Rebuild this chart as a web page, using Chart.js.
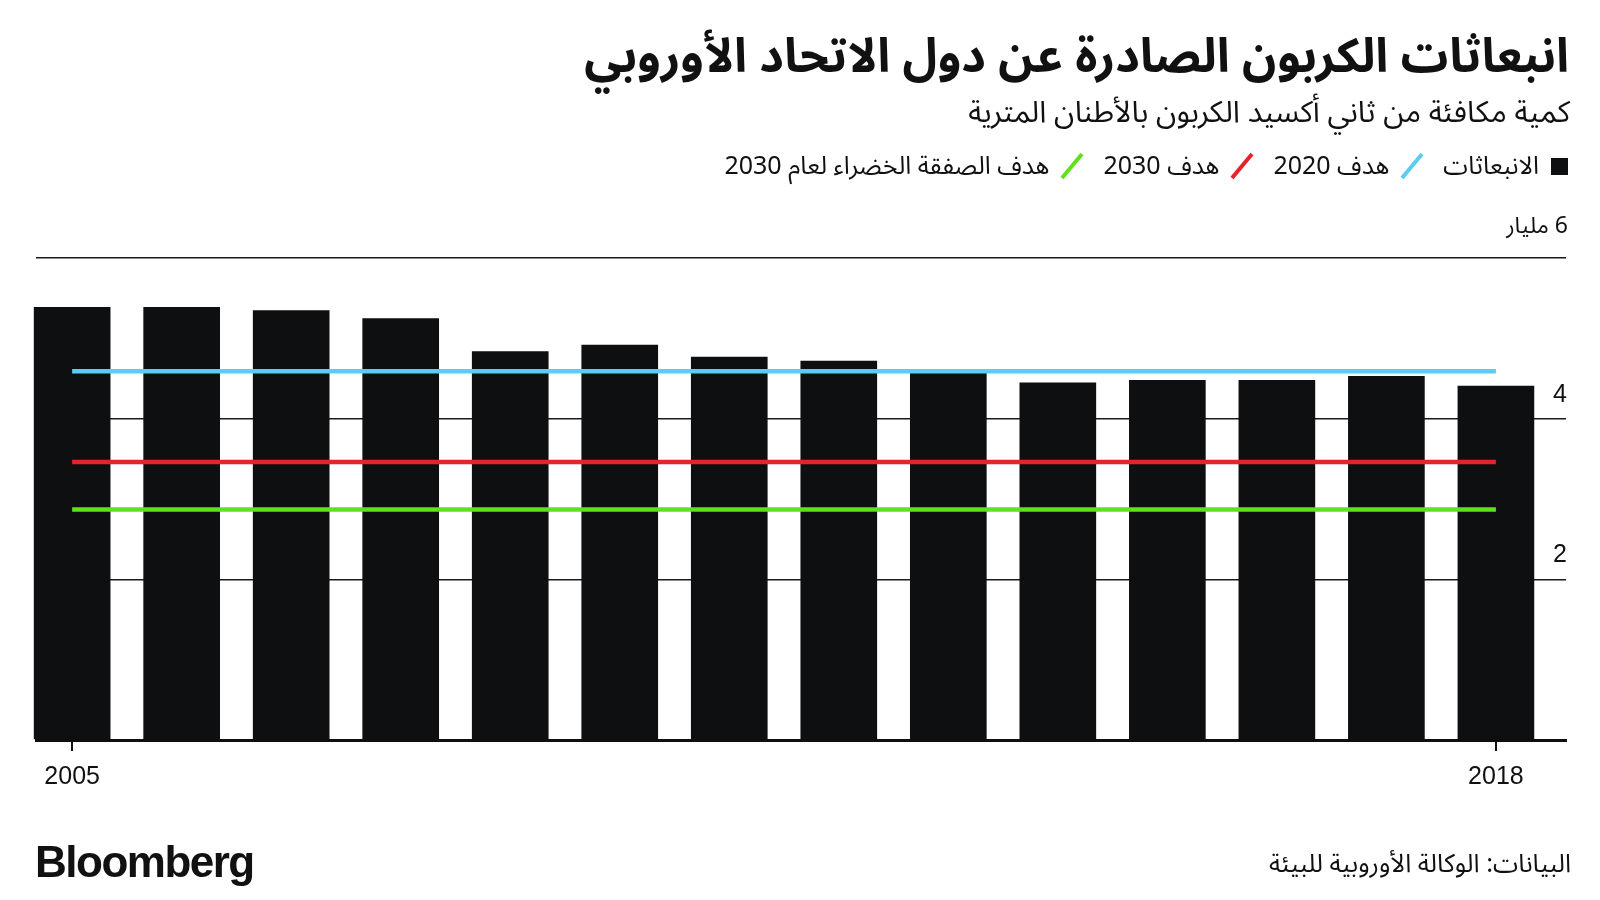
<!DOCTYPE html>
<html lang="ar">
<head>
<meta charset="utf-8">
<script src="https://cdn.jsdelivr.net/npm/chart.js@4.4.1/dist/chart.umd.min.js"></script>
<style>
  body { margin: 0; width: 1600px; height: 900px; background: #fff; position: relative; overflow: hidden;
         font-family: "Noto Sans Arabic", "DejaVu Sans", sans-serif; color: #111; }
  #chart { position: absolute; left: 0; top: 0; }
  .title { position: absolute; right: 31px; top: 25px; direction: rtl; font-weight: bold; font-size: 47.5px; line-height: 64px; margin: 0; }
  .subtitle { position: absolute; right: 30px; top: 94px; direction: rtl; font-size: 30px; line-height: 38px; }
  .legend { position: absolute; right: 32px; top: 149px; direction: rtl; display: flex; align-items: center; font-size: 25px; line-height: 34px; }
  .legend .item { display: flex; align-items: center; margin-left: 18px; }
  .legend .sq { width: 17px; height: 17px; background: #0d0f11; margin-left: 12px; }
  .legend svg { margin-left: 10px; }
  .unit { position: absolute; right: 32px; top: 210px; direction: rtl; font-size: 23px; line-height: 32px; }
  .logo { position: absolute; left: 35px; top: 834px; font-family: "Liberation Sans", Arial, sans-serif; font-weight: bold;
          font-size: 44px; letter-spacing: -1.5px; line-height: 56px; }
  .source { position: absolute; right: 29px; top: 846px; direction: rtl; font-size: 25.5px; line-height: 36px; }
</style>
</head>
<body>
<canvas id="chart" width="1600" height="900"></canvas>
<h1 class="title">انبعاثات الكربون الصادرة عن دول الاتحاد الأوروبي</h1>
<div class="subtitle">كمية مكافئة من ثاني أكسيد الكربون بالأطنان المترية</div>
<div class="legend">
  <div class="item"><div class="sq"></div>الانبعاثات</div>
  <div class="item"><svg width="26" height="28"><line x1="3" y1="26" x2="23" y2="2" stroke="#5bcdf1" stroke-width="4"/></svg>هدف 2020</div>
  <div class="item"><svg width="26" height="28"><line x1="3" y1="26" x2="23" y2="2" stroke="#e5232b" stroke-width="4"/></svg>هدف 2030</div>
  <div class="item"><svg width="26" height="28"><line x1="3" y1="26" x2="23" y2="2" stroke="#63e01c" stroke-width="4"/></svg>هدف الصفقة الخضراء لعام 2030</div>
</div>
<div class="unit">6 مليار</div>
<div class="logo">Bloomberg</div>
<div class="source">البيانات: الوكالة الأوروبية للبيئة</div>
<script>
const years = [2005, 2006, 2007, 2008, 2009, 2010, 2011, 2012, 2013, 2014, 2015, 2016, 2017, 2018];
const emissions = [5.39, 5.39, 5.35, 5.25, 4.84, 4.92, 4.77, 4.72, 4.57, 4.45, 4.48, 4.48, 4.53, 4.41];
const target2020 = 4.59;
const target2030 = 3.46;
const greenDeal2030 = 2.87;
const yTicks = [0, 2, 4, 6];
const xTickYears = [2005, 2018];

const first = years[0];
const last = years[years.length - 1];
const flat = (v) => [{ x: first, y: v }, { x: last, y: v }];
const numFont = { family: 'Liberation Sans, Arial, sans-serif', size: 25 };

new Chart(document.getElementById('chart'), {
  data: {
    datasets: [
      { type: 'line', data: flat(target2020), borderColor: '#5bcdf1', borderWidth: 4.5, pointRadius: 0, order: 0, clip: false },
      { type: 'line', data: flat(target2030), borderColor: '#e5232b', borderWidth: 4.5, pointRadius: 0, order: 0, clip: false },
      { type: 'line', data: flat(greenDeal2030), borderColor: '#63e01c', borderWidth: 4.5, pointRadius: 0, order: 0, clip: false },
      {
        type: 'bar',
        data: years.map((yr, i) => ({ x: yr, y: emissions[i] })),
        backgroundColor: '#0d0f11',
        barPercentage: 0.7,
        categoryPercentage: 1,
        order: 1,
        clip: false,
      },
    ],
  },
  options: {
    responsive: false,
    animation: false,
    layout: { padding: { left: 36, right: 32, top: 258, bottom: 97 } },
    plugins: { legend: { display: false }, tooltip: { enabled: false } },
    scales: {
      x: {
        type: 'linear',
        offset: false,
        min: first - 0.33,
        max: last + 0.64,
        afterBuildTicks: (scale) => { scale.ticks = xTickYears.map(v => ({ value: v })); },
        grid: { display: true, offset: false, drawOnChartArea: false, drawTicks: true, tickLength: 11, color: '#111', lineWidth: 2 },
        border: { display: true, width: 3, color: '#0d0f11' },
        ticks: { callback: (v) => String(v), font: numFont, color: '#111', padding: 11, maxRotation: 0, autoSkip: false },
      },
      y: {
        position: 'right',
        min: 0,
        max: 6,
        afterBuildTicks: (scale) => { scale.ticks = yTicks.map(v => ({ value: v })); },
        grid: { color: '#1a1a1a', lineWidth: 1.5, drawTicks: false },
        border: { display: false },
        ticks: {
          mirror: true,
          padding: 1,
          labelOffset: -24,
          font: numFont,
          color: '#111',
          callback: (v) => (v === 2 || v === 4) ? String(v) : '',
        },
      },
    },
  },
});
</script>
</body>
</html>
